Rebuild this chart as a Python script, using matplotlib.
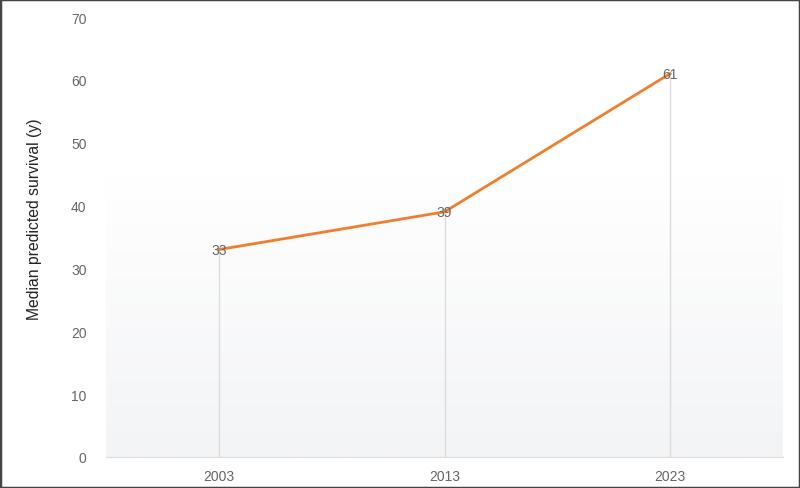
import numpy as np
import matplotlib.pyplot as plt
from matplotlib.colors import LinearSegmentedColormap
from matplotlib.patches import Rectangle

plt.rcParams['font.family'] = ['Liberation Sans', 'DejaVu Sans']

years = ["2003", "2013", "2023"]
survival = [33, 39, 61]
y_ticks = [0, 10, 20, 30, 40, 50, 60, 70]

fig = plt.figure(figsize=(8, 4.89), dpi=100)
ax = fig.add_axes([106 / 800, 1 - 458 / 489, 677 / 800, 440 / 489])

x = np.arange(len(years))
ax.set_xlim(-0.5, len(years) - 0.5)
ax.set_ylim(0, 70)

# soft background gradient in the lower part of the plot
grad = LinearSegmentedColormap.from_list("bg", ["#f3f4f6", "#ffffff"])
ax.imshow(np.linspace(0, 1, 256).reshape(-1, 1), cmap=grad, origin="lower",
          extent=[-0.5, len(years) - 0.5, 0, 45], aspect="auto", zorder=0)

# drop lines from each point
ax.vlines(x, 0, survival, color="#dcdcdc", lw=1, zorder=1)
ax.plot(x, survival, color="#f07f2d", lw=2, zorder=3)
for xi, v in zip(x, survival):
    ax.text(xi, v, str(v), ha="center", va="center", fontsize=10,
            color="#666666", zorder=4)

ax.set_xticks(x)
ax.set_xticklabels(years)
ax.set_yticks(y_ticks)
ax.tick_params(axis="both", length=0, labelsize=10, labelcolor="#666666")
ax.tick_params(axis="x", pad=9)
ax.tick_params(axis="y", pad=14)
for s in ["top", "right", "left"]:
    ax.spines[s].set_visible(False)
ax.spines["bottom"].set_color("#dddddd")
ax.set_ylabel("Median predicted survival (y)", fontsize=11.3, color="#222222")
ax.yaxis.set_label_coords(-0.095, 0.543)

fig.patches.append(Rectangle((0, 0), 1, 1, transform=fig.transFigure,
                             fill=False, edgecolor="#444444", lw=2.5))

fig.savefig("out.png", dpi=100)
